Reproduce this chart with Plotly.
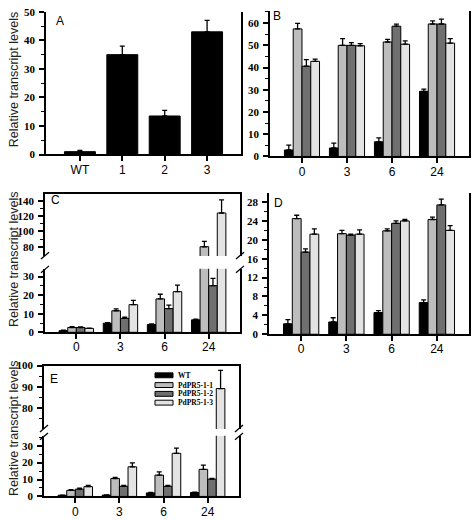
import plotly.graph_objects as go

W, H = 473, 521

series = ["WT", "PdPR5-1-1", "PdPR5-1-2", "PdPR5-1-3"]
colors = ["#000000", "#bdbdbd", "#6f6f6f", "#e3e3e3"]

# Panel A
a_cats = ["WT", "1", "2", "3"]
a_vals = [1.0, 35.0, 13.5, 43.0]
a_errs = [0.4, 3.0, 2.0, 4.0]

times = ["0", "3", "6", "24"]

# Panel B (rows: WT, 1-1, 1-2, 1-3)
b_vals = [[2.9, 3.8, 6.6, 29.3],
          [57.4, 50.0, 51.5, 59.6],
          [40.6, 50.0, 58.6, 59.6],
          [42.8, 49.8, 50.5, 51.0]]
b_errs = [[2.2, 2.2, 1.8, 1.0],
          [2.5, 3.0, 1.2, 1.4],
          [3.0, 1.2, 0.9, 2.2],
          [1.0, 1.0, 1.5, 2.0]]

# Panel C
c_vals = [[0.9, 4.9, 4.2, 6.7],
          [2.6, 11.6, 18.0, 80.0],
          [2.6, 7.5, 12.8, 25.1],
          [2.1, 14.9, 21.9, 124.0]]
c_errs = [[0.2, 0.3, 0.3, 0.4],
          [0.4, 1.0, 2.5, 7.0],
          [0.3, 0.7, 1.8, 3.9],
          [0.2, 2.3, 3.5, 17.0]]

# Panel D
d_vals = [[2.2, 2.6, 4.6, 6.7],
          [24.5, 21.3, 21.9, 24.3],
          [17.4, 21.0, 23.5, 27.4],
          [21.2, 21.2, 24.0, 22.0]]
d_errs = [[0.9, 0.9, 0.4, 0.6],
          [0.7, 0.7, 0.4, 0.5],
          [0.7, 0.2, 0.5, 1.2],
          [1.1, 0.9, 0.3, 1.0]]

# Panel E
e_vals = [[0.7, 0.8, 2.1, 2.3],
          [3.6, 10.6, 12.6, 16.0],
          [4.3, 6.0, 6.0, 10.2],
          [5.8, 17.5, 25.5, 89.2]]
e_errs = [[0.1, 0.1, 0.3, 0.3],
          [0.4, 0.6, 1.9, 2.5],
          [0.6, 0.6, 0.6, 0.5],
          [0.8, 2.3, 3.0, 8.5]]


def xd(a, b):
    return [a / W, b / W]


def yd(top, bot):
    return [1 - bot / H, 1 - top / H]


tickfont_y = dict(family="Liberation Serif", size=11, color="black", weight="bold")
tickfont_x = dict(family="Liberation Sans", size=12, color="black")


def yaxis(domain, rng, tickvals, minorvals, anchor):
    return dict(domain=domain, range=rng, anchor=anchor, showline=True, linecolor="black",
                linewidth=1.5, mirror=True, ticks="outside", ticklen=5, tickwidth=1.5,
                tickcolor="black", tickmode="array", tickvals=tickvals, showgrid=False,
                zeroline=False, tickfont=tickfont_y, ticklabelstandoff=2,
                minor=dict(tickmode="array", tickvals=minorvals, ticks="outside", ticklen=3,
                           tickwidth=1.2, tickcolor="black", showgrid=False))


def xaxis(domain, cats, anchor, rng, top=False):
    d = dict(domain=domain, anchor=anchor, type="category", categoryorder="array",
             categoryarray=cats, range=rng, showline=True, linecolor="black", linewidth=1.5,
             showgrid=False, zeroline=False)
    if top:
        d.update(side="top", ticks="", showticklabels=False, mirror=False)
    else:
        d.update(ticks="outside", ticklen=5, tickwidth=1.5, tickcolor="black",
                 tickfont=tickfont_x, mirror=False, ticklabelstandoff=-2)
    return d


fig = go.Figure()


def add_bar(x, y, err, color, xa, ya, width=None):
    fig.add_trace(go.Bar(
        x=x, y=y, xaxis=xa, yaxis=ya, width=width,
        marker=dict(color=color, line=dict(color="black", width=1)),
        error_y=dict(type="data", symmetric=False, array=err, arrayminus=[0] * len(err),
                     color="black", thickness=1.3, width=2.5),
        showlegend=False, hoverinfo="skip"))


# A
add_bar(a_cats, a_vals, a_errs, "#000000", "x", "y", width=0.73)
# B
for i in range(4):
    add_bar(times, b_vals[i], b_errs[i], colors[i], "x2", "y2")
# C lower and upper
for i in range(4):
    add_bar(times, c_vals[i], c_errs[i], colors[i], "x3", "y3")
for i in range(4):
    add_bar(times, c_vals[i], c_errs[i], colors[i], "x4", "y4")
# D
for i in range(4):
    add_bar(times, d_vals[i], d_errs[i], colors[i], "x5", "y5")
# E lower and upper
for i in range(4):
    add_bar(times, e_vals[i], e_errs[i], colors[i], "x6", "y6")
for i in range(4):
    add_bar(times, e_vals[i], e_errs[i], colors[i], "x7", "y7")

rngA = [-0.8, 3.8]
rngT = [-0.71, 3.71]

# Panel pixel geometry
A_x = (46, 241); A_y = (6, 152)
B_x = (270, 469); B_y = (5, 154)
C_x = (45, 240); C_up = (192, 256); C_lo = (269, 334)
D_x = (269, 469); D_y = (191, 336)
E_x = (44, 239); E_up = (368, 433); E_lo = (440, 502)

layout = dict(
    width=W, height=H, margin=dict(l=0, r=0, t=0, b=0),
    paper_bgcolor="white", plot_bgcolor="white",
    barmode="group", bargap=0.22, bargroupgap=0,
    showlegend=False,
    xaxis=xaxis(xd(*A_x), a_cats, "y", rngA),
    yaxis=yaxis(yd(*A_y), [0, 50], [0, 10, 20, 30, 40, 50], [5, 15, 25, 35, 45], "x"),
    xaxis2=xaxis(xd(*B_x), times, "y2", rngT),
    yaxis2=yaxis(yd(*B_y), [0, 65.5], [0, 10, 20, 30, 40, 50, 60], [5, 15, 25, 35, 45, 55, 65], "x2"),
    xaxis3=xaxis(xd(*C_x), times, "y3", rngT),
    yaxis3=yaxis(yd(*C_lo), [0, 34.2], [0, 10, 20, 30], [5, 15, 25], "x3"),
    xaxis4=xaxis(xd(*C_x), times, "y4", rngT, top=True),
    yaxis4=yaxis(yd(*C_up), [67.8, 149.3], [80, 100, 120, 140], [90, 110, 130], "x4"),
    xaxis5=xaxis(xd(*D_x), times, "y5", rngT),
    yaxis5=yaxis(yd(*D_y), [0, 30], [0, 4, 8, 12, 16, 20, 24, 28], [2, 6, 10, 14, 18, 22, 26], "x5"),
    xaxis6=xaxis(xd(*E_x), times, "y6", rngT),
    yaxis6=yaxis(yd(*E_lo), [0, 35.8], [0, 10, 20, 30], [5, 15, 25, 35], "x6"),
    xaxis7=xaxis(xd(*E_x), times, "y7", rngT, top=True),
    yaxis7=yaxis(yd(*E_up), [70.2, 100], [80, 90, 100], [75, 85, 95], "x7"),
)
fig.update_layout(**layout)

shapes = []


def px_line(x0, y0, x1, y1, w=1.3):
    shapes.append(dict(type="line", xref="paper", yref="paper",
                       x0=x0 / W, y0=1 - y0 / H, x1=x1 / W, y1=1 - y1 / H,
                       line=dict(color="black", width=w)))


def break_marks(xpx, ytop, ybot):
    for xx in xpx:
        px_line(xx - 4, ytop + 3, xx + 4, ytop - 4)
        px_line(xx - 4, ybot + 4, xx + 4, ybot - 3)


break_marks([C_x[0], C_x[1]], C_up[1], C_lo[0])
break_marks([E_x[0], E_x[1]], E_up[1], E_lo[0])

# legend in panel E (drawn as swatches + text)
leg_rows = [378, 388, 397, 406]
for i, name in enumerate(series):
    y = leg_rows[i]
    shapes.append(dict(type="rect", xref="paper", yref="paper",
                       x0=155 / W, x1=173 / W, y0=1 - (y + 2.5) / H, y1=1 - (y - 2.5) / H,
                       fillcolor=colors[i], line=dict(color="black", width=1)))

annotations = []
for i, name in enumerate(series):
    annotations.append(dict(text=name, x=176 / W, y=1 - leg_rows[i] / H, xref="paper",
                            yref="paper", xanchor="left", yanchor="middle", showarrow=False,
                            font=dict(family="Liberation Serif", size=7.5, color="black",
                                      weight="bold")))

ytitle = "Relative transcript levels"
for yc in [76, 260, 433]:
    annotations.append(dict(text=ytitle, x=14 / W, y=1 - yc / H, xref="paper", yref="paper",
                            xanchor="center", yanchor="middle", textangle=-90,
                            showarrow=False,
                            font=dict(family="Liberation Sans", size=12.5, color="#222222")))

letters = [("A", 60, 15), ("B", 277, 10), ("C", 55, 199), ("D", 278, 202), ("E", 54, 382)]
for t, x, y in letters:
    annotations.append(dict(text=t, x=x / W, y=1 - y / H, xref="paper", yref="paper",
                            xanchor="center", yanchor="middle", showarrow=False,
                            font=dict(family="Liberation Sans", size=12, color="black")))

fig.update_layout(shapes=shapes, annotations=annotations)
fig.write_html("out.html", config={"displayModeBar": False},
               post_script="document.body.style.margin='0';document.body.style.padding='0';")
